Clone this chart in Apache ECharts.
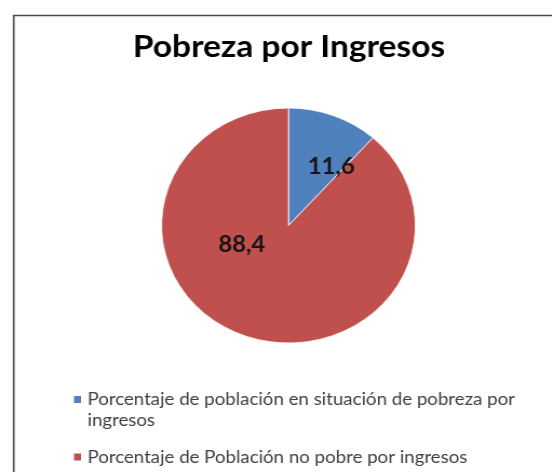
<!DOCTYPE html>
<html><head><meta charset="utf-8">
<script src="https://cdn.jsdelivr.net/npm/echarts@6/dist/echarts.min.js"></script>
<style>
html,body{margin:0;padding:0;background:#fff;overflow:hidden}
#c{width:511px;height:472px;transform:scaleX(1.08);transform-origin:0 0}
</style>
</head><body><div id="c"></div>
<script>
const titleText = "Pobreza por Ingresos";
const categories = [
  "Porcentaje de población en situación de pobreza por ingresos",
  "Porcentaje de Población no pobre por ingresos"
];
const values = [11.6, 88.4];
const valueLabels = ["11,6", "88,4"];
const colors = ["#4F81BD", "#C0504D"];
const labelOffsets = [[17.6, -0.6], [-21.2, -38.4]];

const legendText = {fontFamily: 'Lato', fontSize: 17.3, color: '#404040', width: 430, overflow: 'break', lineHeight: 21};

const chart = echarts.init(document.getElementById('c'), null, {renderer: 'canvas'});
chart.setOption({
  animation: false,
  backgroundColor: '#fff',
  graphic: [{
    type: 'rect', left: 10.2, top: 13,
    shape: {width: 600, height: 520},
    style: {fill: 'none', stroke: '#4a4a4a', lineWidth: 1.6}
  }],
  title: {
    text: titleText, left: 267.6, top: 31, textAlign: 'center', padding: 0,
    textStyle: {fontFamily: 'Lato', fontWeight: 'bold', fontSize: 31, color: '#000'}
  },
  legend: [{
    orient: 'vertical', left: 66.5, top: 368, padding: 0,
    icon: 'rect', itemWidth: 8.5, itemHeight: 9,
    data: [categories[0]],
    formatter: name => '\n' + name,
    textStyle: legendText
  }, {
    orient: 'vertical', left: 66.5, top: 446.5, padding: 0,
    icon: 'rect', itemWidth: 8.5, itemHeight: 9,
    data: [categories[1]],
    textStyle: legendText
  }],
  series: [{
    type: 'pie', center: [267.1, 225.5], radius: 117.5,
    startAngle: 90, clockwise: true,
    data: categories.map((n, i) => ({
      name: n, value: values[i],
      itemStyle: {color: colors[i]},
      label: {offset: labelOffsets[i]}
    })),
    itemStyle: {borderColor: '#fff', borderWidth: 0.8},
    label: {
      position: 'inside',
      formatter: p => valueLabels[p.dataIndex],
      fontFamily: 'Lato', fontWeight: 'bold', fontSize: 22, color: '#151515'
    },
    labelLine: {show: false},
    emphasis: {disabled: true}
  }]
});
</script></body></html>
